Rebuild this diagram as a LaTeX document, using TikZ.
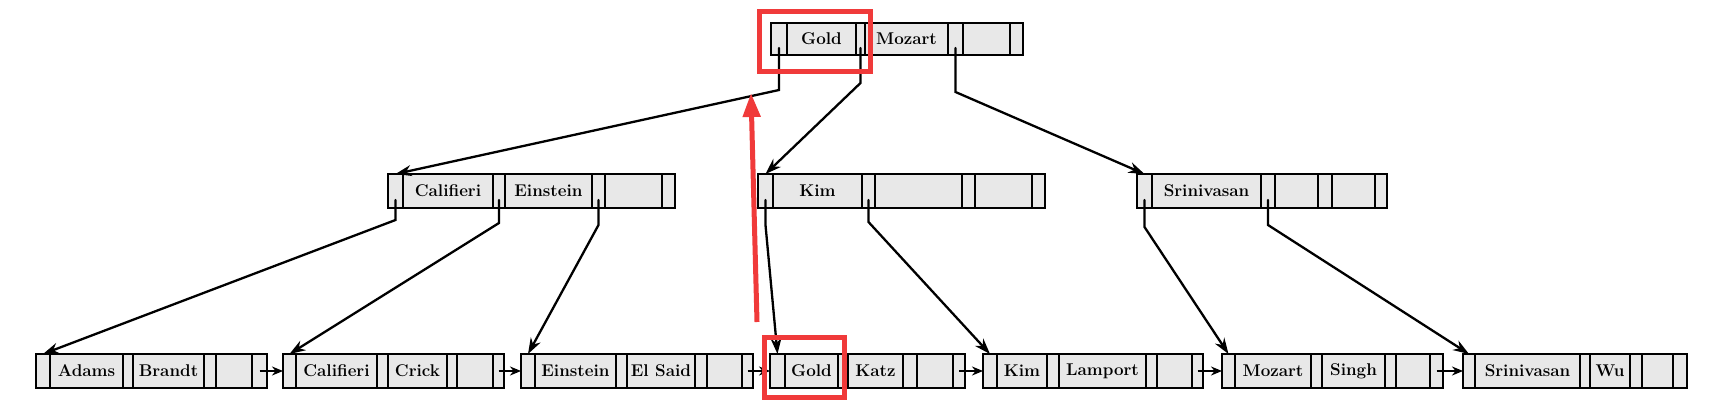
\documentclass[tikz,border=0pt]{standalone}
\usetikzlibrary{arrows.meta}
\definecolor{markred}{RGB}{240,58,58}
\definecolor{cellfill}{RGB}{232,232,232}
\tikzset{
  cellbox/.style={draw=black, line width=2.6pt, fill=cellfill, inner sep=0pt, outer sep=0pt,
    anchor=center, font=\fontsize{17}{19}\selectfont\bfseries},
  conn/.style={line width=2.3pt, line cap=round, -{Stealth[length=16pt,width=11pt]}},
  nextarrow/.style={line width=2.3pt, -{Stealth[length=11pt,width=9pt]}},
  redbox/.style={draw=markred, line width=5pt, inner sep=0pt, outer sep=0pt},
  redarrow/.style={draw=markred, line width=5pt, -{Triangle[length=24pt,width=17pt]}},
}
\newcommand{\bcell}[4]{\node[cellbox, minimum width={#3-#2}, minimum height=\rowh] (#1) at ({(#2+#3)/2},\rowy) {#4};}
\begin{document}
\begin{tikzpicture}[x=1pt,y=-1pt]
\useasboundingbox[fill=white] (0,0) rectangle (1733,412);
% ---------- root ----------
\def\rowy{39}\def\rowh{32}
\bcell{T-p1}{771}{787}{}
\bcell{T-k1}{787}{856}{Gold}
\bcell{T-p2}{856}{865}{}
\bcell{T-k2}{865}{948}{Mozart}
\bcell{T-p3}{948}{963}{}
\bcell{T-k3}{963}{1010}{}
\bcell{T-p4}{1010}{1023}{}
% ---------- internal level ----------
\def\rowy{191}\def\rowh{34}
\bcell{C-p1}{388}{403}{}
\bcell{C-k1}{403}{493}{Califieri}
\bcell{C-p2}{493}{505}{}
\bcell{C-k2}{505}{592}{Einstein}
\bcell{C-p3}{592}{605}{}
\bcell{C-k3}{605}{662}{}
\bcell{C-p4}{662}{675}{}
%
\bcell{K-p1}{758}{773}{}
\bcell{K-k1}{773}{862}{Kim}
\bcell{K-p2}{862}{875}{}
\bcell{K-k2}{875}{962}{}
\bcell{K-p3}{962}{975}{}
\bcell{K-k3}{975}{1032}{}
\bcell{K-p4}{1032}{1045}{}
%
\bcell{S-p1}{1137}{1152}{}
\bcell{S-k1}{1152}{1261}{Srinivasan}
\bcell{S-p2}{1261}{1275}{}
\bcell{S-k2}{1275}{1318}{}
\bcell{S-p3}{1318}{1332}{}
\bcell{S-k3}{1332}{1375}{}
\bcell{S-p4}{1375}{1387}{}
% ---------- leaves ----------
\def\rowy{371}\def\rowh{34}
\bcell{A-p1}{36}{50}{}
\bcell{A-k1}{50}{123}{Adams}
\bcell{A-p2}{123}{133}{}
\bcell{A-k2}{133}{204}{Brandt}
\bcell{A-p3}{204}{216}{}
\bcell{A-k3}{216}{252}{}
\bcell{A-p4}{252}{267}{}
%
\bcell{B-p1}{283}{296}{}
\bcell{B-k1}{296}{377}{Califieri}
\bcell{B-p2}{377}{388}{}
\bcell{B-k2}{388}{447}{Crick}
\bcell{B-p3}{447}{457}{}
\bcell{B-k3}{457}{493}{}
\bcell{B-p4}{493}{504}{}
%
\bcell{E-p1}{521}{535}{}
\bcell{E-k1}{535}{616}{Einstein}
\bcell{E-p2}{616}{627}{}
\bcell{E-k2}{627}{695}{El Said}
\bcell{E-p3}{695}{707}{}
\bcell{E-k3}{707}{742}{}
\bcell{E-p4}{742}{753}{}
%
\bcell{G-p1}{770}{785}{}
\bcell{G-k1}{785}{838}{Gold}
\bcell{G-p2}{838}{848}{}
\bcell{G-k2}{848}{903}{Katz}
\bcell{G-p3}{903}{917}{}
\bcell{G-k3}{917}{953}{}
\bcell{G-p4}{953}{965}{}
%
\bcell{KL-p1}{983}{997}{}
\bcell{KL-k1}{997}{1047}{Kim}
\bcell{KL-p2}{1047}{1059}{}
\bcell{KL-k2}{1059}{1146}{Lamport}
\bcell{KL-p3}{1146}{1157}{}
\bcell{KL-k3}{1157}{1192}{}
\bcell{KL-p4}{1192}{1203}{}
%
\bcell{ML-p1}{1222}{1235}{}
\bcell{ML-k1}{1235}{1311}{Mozart}
\bcell{ML-p2}{1311}{1322}{}
\bcell{ML-k2}{1322}{1385}{Singh}
\bcell{ML-p3}{1385}{1396}{}
\bcell{ML-k3}{1396}{1430}{}
\bcell{ML-p4}{1430}{1443}{}
%
\bcell{SL-p1}{1463}{1475}{}
\bcell{SL-k1}{1475}{1580}{Srinivasan}
\bcell{SL-p2}{1580}{1590}{}
\bcell{SL-k2}{1590}{1630}{Wu}
\bcell{SL-p3}{1630}{1642}{}
\bcell{SL-k3}{1642}{1673}{}
\bcell{SL-p4}{1673}{1687}{}
% ---------- tree pointers ----------
\draw[conn] (T-p1.south) ++(0,-7) -- ++(0,42) -- (C-p1.north);
\draw[conn] (T-p2.south) ++(0,-7) -- ++(0,35) -- (K-p1.north);
\draw[conn] (T-p3.south) ++(0,-7) -- ++(0,44) -- (S-p1.north);
\draw[conn] (C-p1.south) ++(0,-8) -- ++(0,20) -- (A-p1.north);
\draw[conn] (C-p2.south) ++(0,-8) -- ++(0,23) -- (B-p1.north);
\draw[conn] (C-p3.south) ++(0,-8) -- ++(0,25) -- (E-p1.north);
\draw[conn] (K-p1.south) ++(0,-8) -- ++(0,25) -- (G-p1.north);
\draw[conn] (K-p2.south) ++(0,-8) -- ++(0,22) -- (KL-p1.north);
\draw[conn] (S-p1.south) ++(0,-8) -- ++(0,27) -- (ML-p1.north);
\draw[conn] (S-p2.south) ++(0,-8) -- ++(0,25) -- (SL-p1.north);
% ---------- leaf chain ----------
\draw[nextarrow] (A-p4.center) -- (B-p1.west);
\draw[nextarrow] (B-p4.center) -- (E-p1.west);
\draw[nextarrow] (E-p4.center) -- (G-p1.west);
\draw[nextarrow] (G-p4.center) -- (KL-p1.west);
\draw[nextarrow] (KL-p4.center) -- (ML-p1.west);
\draw[nextarrow] (ML-p4.center) -- (SL-p1.west);
% ---------- red annotation ----------
\node[redbox, minimum width=111, minimum height=60] (redtop) at (815,41.5) {};
\node[redbox, minimum width=80, minimum height=60] (redbot) at (804.5,367.5) {};
\coordinate (redfrom) at (757,322);
\coordinate (redto) at (751,93);
\draw[redarrow] (redfrom) -- (redto);
\end{tikzpicture}
\end{document}
